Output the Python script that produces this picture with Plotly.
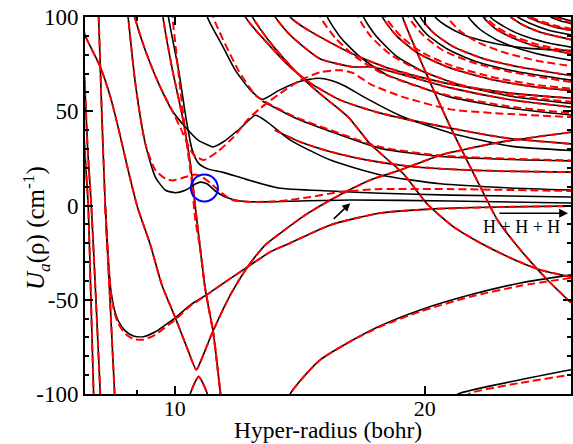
import math
import plotly.graph_objects as go

# ---------------- data (rho in bohr, U in cm^-1) ----------------
rho_W1 = [7.78, 7.83, 7.87, 7.93, 7.99]
U_W1 = [35, 16, 0, -50, -101]

rho_W2 = [7.77, 7.80, 7.86, 7.94, 8.04, 8.14]
U_W2 = [75, 62, 29, -1, -50, -101]

rho_Wb = [8.05, 8.10, 8.17, 8.25, 8.36, 8.47]
U_Wb = [120, 100, 50, 0, -50, -101]

rho_A = [7.75, 7.80, 8.14, 8.37, 8.55, 8.79, 9.02, 9.35, 9.65, 10.02, 10.34, 10.62,
         10.74, 11.10, 11.67, 12.24, 12.86, 13.41, 14.37, 15.40, 17.20, 18.70, 20.89, 24.67, 30.0]
U_A = [95, 90.3, 73.4, 57.5, 41.6, 18.8, -0.8, -20.9, -42, -59.6, -75, -87.1,
       -83, -67.5, -47.4, -32.6, -20.9, -14.6, -5, 2.9, 13.5, 18.8, 26.7, 33.6, 38.9]

rho_L = [10.38, 10.45, 10.60, 10.69, 10.78, 10.94, 11.02]
U_L = [-104, -99.5, -93, -90.7, -93, -99.5, -104]

rho_S1 = [9.62, 9.68, 9.94, 10.22, 10.45, 10.59, 10.74, 10.89, 11.13, 11.35, 11.42]
U_S1 = [110, 100, 71.8, 46.9, 21.4, -0.8, -23.6, -44.8, -67.5, -99.3, -110]

rho_S2 = [9.90, 9.94, 10.04, 10.16, 10.33, 10.48, 10.59, 10.74, 10.89, 11.13, 11.35, 11.42]
U_S2 = [110, 100, 82.4, 61.2, 34.7, 13.5, -7.7, -23.6, -44.8, -67.5, -99.3, -110]

rho_F = [13.5, 13.78, 14.37, 14.98, 16.41, 17.69, 19.76, 22.70, 26.08, 30.0]
U_F_black = [-110, -99.8, -89.8, -81.8, -71.2, -63.8, -55.4, -47.4, -41.1, -36.8]
U_F_red = [-110, -99.8, -89.8, -81.8, -71.2, -64.2, -56.2, -48.4, -42.6, -38.4]

rho_G_black = [21.3, 22.08, 26.08, 30.0]
U_G_black = [-103, -99.5, -92.4, -87.1]
rho_G_red = [22.3, 22.7, 26.08, 30.0]
U_G_red = [-102, -99.5, -94.1, -89.8]

rho_L1 = [12.25, 12.41, 12.97, 13.59, 14.17, 14.98, 16.18, 17.20, 18.86, 20.14, 21.60, 23.34, 25.36, 27.57, 30.0]
U_L1 = [110, 100, 87.7, 77.1, 68.6, 59.1, 46.9, 32.6, 16.7, 0.8, -10.9, -19.9, -27.8, -34.2, -37.9]

rho_L2 = [18.6, 18.81, 19.93, 21.48, 23.34, 24.47, 26.08, 28.11, 30.0]
U_L2 = [110, 100, 73.4, 41.6, 9.8, -7.7, -23.6, -39.5, -51.6]

rho_B = [8.25, 8.31, 8.38, 8.46, 8.55, 8.72, 8.92, 9.17, 9.48, 9.75, 10.02, 10.45, 10.92,
         11.51, 12.24, 13.04, 13.78, 15.40, 17.69, 20.32, 24.67, 30.0]
U_B_black = [0, -25, -45, -55, -61, -66.5, -69.2, -69.6, -67, -63.3, -59.6, -52.7, -47.4,
             -40.5, -32.6, -24.6, -19.9, -10.3, -4, -1.9, -0.8, -0.3]
U_B_red = [0, -25, -46, -56.5, -62.5, -68, -70.8, -71.2, -68.5, -64.5, -60.5, -53.2, -47.6,
           -40.5, -32.6, -24.6, -19.9, -10.3, -4, -1.9, -0.8, -0.3]

rho_C_black = [8.74, 8.79, 8.97, 9.22, 9.48, 9.75, 10.02, 10.30, 10.59, 10.74, 10.95, 11.19,
               11.51, 12.0, 12.68, 14.17, 16.27, 21.48, 30.0]
U_C_black = [110, 100, 64.5, 32.7, 15.1, 8.1, 6.8, 8.1, 11.4, 12.4, 11.4, 7.7,
             4.5, 2.4, 1.9, 2.4, 2.9, 2.4, 1.3]
rho_C_red = [8.74, 8.79, 8.97, 9.22, 9.48, 9.75, 9.94, 10.30, 10.59, 10.80, 11.04, 11.35,
             11.73, 12.34, 13.41, 14.57, 15.83, 17.69, 21.48, 30.0]
U_C_red = [110, 100, 64.5, 32.7, 18.8, 14.2, 13.3, 15.1, 16.5, 15.0, 11.9, 7.2,
           2.9, 1.9, 2.4, 4.5, 7.2, 8.7, 8.7, 7.7]

rho_D_black = [8.88, 8.95, 9.22, 9.57, 9.93, 10.30, 10.68, 10.89, 11.12, 11.45, 12.0, 12.51,
               12.92, 13.78, 15.40, 17.69, 20.89, 25.36, 30.0]
U_D_black = [106, 100, 82.2, 64.5, 50.4, 41.6, 34.5, 32.7, 31.1, 33.8, 41, 47.9,
             44.4, 34.7, 24.1, 16.2, 11.5, 9.3, 8.2]
rho_D_red = [8.88, 8.95, 9.22, 9.57, 9.93, 10.16, 10.53, 10.83, 11.26, 11.78, 12.23, 12.68,
             13.41, 14.17, 14.98, 15.83, 16.41, 17.20, 18.86, 21.48, 25.36, 30.0]
U_D_red = [106, 100, 82.2, 64.5, 50.4, 41.3, 27.2, 24.1, 28.5, 36.4, 45.3, 51.6,
           59.6, 66.5, 70.7, 71.8, 70.2, 64.4, 57.5, 51.0, 48.5, 46.9]

rho_E = [9.78, 9.83, 10.11, 10.33, 10.50, 10.68, 10.98, 11.41, 12.17, 13.33, 15.40, 17.69, 21.48, 30.0]
U_E = [110, 100, 71.8, 45.3, 29.4, 22.5, 19.3, 17.7, 14, 9.3, 7.7, 6.5, 5.5, 4.5]

rho_K1 = [10.90, 10.95, 11.41, 11.83, 12.34, 12.75, 13.37, 14.17, 14.90, 15.40, 16.05, 16.91,
          18.86, 21.48, 25.36, 30.0]
U_K1 = [110, 100, 85, 71.8, 61.2, 56.4, 61.2, 65.9, 67.5, 66.5, 63.3, 57.5,
        46.9, 38.5, 31.5, 29.2]

rho_G1 = [11.05, 11.13, 11.93, 12.51, 12.75, 13.97, 15.40, 17.69, 20.89, 25.36, 30.0]
U_G1 = [110, 100, 71.8, 58.5, 55.9, 46.9, 40, 31, 26.5, 24.8, 23.9]
rho_G1_black = [12.75, 13.97, 15.40, 17.69, 20.89, 25.36, 30.0]
U_G1_black = [55.4, 46.4, 39.3, 30.3, 26.0, 24.4, 23.7]

rho_N = [13.2, 14.2, 15.4, 17.0, 19.0, 21.5, 25.0, 30.0]
U_N = [40, 33.5, 28.5, 24.2, 21.0, 19.2, 18.2, 17.7]

rho_M = [12.05, 12.17, 12.93, 13.78, 14.57, 15.83, 17.69, 21.48, 25.36, 30.0]
U_M = [110, 100, 86.1, 73.4, 64.9, 55.9, 49, 41, 35.5, 32.7]

# fan of channels descending towards the upper thresholds (black)
rho_b1 = [13.05, 13.22, 13.78, 14.37, 14.98, 16.41, 17.30, 18.86, 21.48, 25.36, 30.0]
U_b1 = [110, 100, 90.3, 83.4, 77.7, 73.5, 73.5, 69.3, 62.4, 56.1, 52.2]
rho_b2 = [13.6, 13.78, 14.29, 14.98, 16.41, 17.94, 19.76, 21.48, 25.36, 30.0]
U_b2 = [110, 100, 94.6, 89.3, 80.2, 73.4, 68.1, 64.4, 59.6, 56.9]
rho_b3 = [15.1, 15.27, 15.83, 16.73, 17.94, 19.76, 21.48, 25.36, 30.0]
U_b3 = [110, 100, 89.3, 78.7, 69.7, 62.8, 57.5, 51.6, 48]
rho_b4 = [16.7, 16.88, 17.45, 18.44, 19.76, 22.08, 25.36, 30.0]
U_b4 = [110, 100, 90.3, 79.7, 71.8, 63.8, 58, 54.2]
rho_b5 = [17.6, 17.79, 18.5, 19.6, 21.3, 24.0, 27.0, 30.0]
U_b5 = [110, 100, 90, 81, 73.5, 67, 63, 61]
rho_b6 = [19.2, 19.39, 20.1, 21.3, 23.0, 25.5, 30.0]
U_b6 = [110, 100, 91, 83, 76.5, 71.5, 66.5]
rho_b7 = [19.55, 19.76, 20.5, 21.7, 23.5, 26.0, 30.0]
U_b7 = [110, 100, 91.5, 84, 78, 73.5, 69]
rho_b8 = [22.35, 22.58, 23.3, 24.5, 26.3, 28.3, 30.0]
U_b8 = [110, 100, 93.5, 87.5, 82.5, 79, 77]
rho_b9 = [23.3, 23.54, 24.3, 25.5, 27.2, 30.0]
U_b9 = [110, 100, 94, 89, 84.5, 80.5]
rho_b10 = [23.75, 24.0, 24.9, 26.3, 28.0, 30.0]
U_b10 = [110, 100, 95, 90, 86.5, 84]
rho_b11 = [25.36, 26.2, 27.5, 30.0];  U_b11 = [100, 96, 92, 88]
rho_b12 = [25.86, 26.8, 28.2, 30.0];  U_b12 = [100, 96.5, 93, 90.5]
rho_b13 = [26.59, 27.5, 28.8, 30.0];  U_b13 = [100, 97.3, 94.5, 93]
rho_b14 = [28.34, 29.1, 30.0];        U_b14 = [100, 98, 96.5]
rho_b15 = [28.9, 29.5, 30.0];         U_b15 = [100, 98.8, 98]
rho_b16 = [20.4, 20.6, 21.2, 22.3, 24.0, 26.5, 30.0]
U_b16 = [110, 100, 95.5, 90.5, 86.5, 83.5, 82.2]

# fan (red dashed)
rho_r1 = [14.8, 14.98, 15.6, 16.5, 17.7, 19.5, 21.3, 25.3, 30.0]
U_r1 = [110, 100, 89, 79, 70.5, 63.5, 58.5, 52.5, 49]
rho_r2 = [16.45, 16.64, 17.2, 18.2, 19.6, 21.9, 25.3, 30.0]
U_r2 = [110, 100, 90, 80, 72.3, 64.5, 58.5, 55]
rho_r3 = [17.75, 17.94, 18.7, 19.8, 21.5, 24.3, 27.2, 30.0]
U_r3 = [110, 100, 90, 81.5, 74.3, 67.8, 64, 62]
rho_r4 = [18.95, 19.13, 19.9, 21.0, 22.8, 25.3, 30.0]
U_r4 = [110, 100, 90.5, 82.5, 76, 71, 65.5]
rho_r5 = [21.1, 21.30, 22.0, 23.2, 25.0, 27.5, 30.0]
U_r5 = [110, 100, 93, 86.5, 81, 76.5, 74]
rho_r6 = [23.5, 23.7, 24.5, 25.7, 27.4, 30.0]
U_r6 = [110, 100, 94.2, 89.5, 85.3, 81.5]
rho_r7 = [26.8, 27.7, 29.0, 30.0];  U_r7 = [100, 97.5, 95, 93.8]
rho_r8 = [28.6, 29.3, 30.0];        U_r8 = [100, 98.5, 97]

# tick labels
x_tickvals = [10, 20]
x_ticktext = ["10", "20"]
y_tickvals = [-100, -50, 0, 50, 100]
y_ticktext = ["-100", "-50", "0", "50", "100"]

# --------------------------------------------------------------------------------------
black_curves = [
    (rho_W1, U_W1), (rho_W2, U_W2), (rho_Wb, U_Wb), (rho_A, U_A), (rho_L, U_L),
    (rho_S1, U_S1), (rho_F, U_F_black), (rho_G_black, U_G_black), (rho_L1, U_L1),
    (rho_L2, U_L2), (rho_B, U_B_black), (rho_C_black, U_C_black), (rho_D_black, U_D_black),
    (rho_E, U_E), (rho_K1, U_K1), (rho_M, U_M), (rho_G1_black, U_G1_black), (rho_N, U_N),
    (rho_b1, U_b1), (rho_b2, U_b2), (rho_b3, U_b3), (rho_b4, U_b4), (rho_b5, U_b5),
    (rho_b6, U_b6), (rho_b7, U_b7), (rho_b8, U_b8), (rho_b9, U_b9), (rho_b10, U_b10),
    (rho_b11, U_b11), (rho_b12, U_b12), (rho_b13, U_b13), (rho_b14, U_b14), (rho_b15, U_b15),
    (rho_b16, U_b16),
]
red_curves = [
    (rho_W1, U_W1), (rho_W2, U_W2), (rho_Wb, U_Wb), (rho_A, U_A), (rho_L, U_L),
    (rho_S1, U_S1), (rho_S2, U_S2), (rho_F, U_F_red), (rho_G_red, U_G_red), (rho_L1, U_L1),
    (rho_L2, U_L2), (rho_B, U_B_red), (rho_C_red, U_C_red), (rho_D_red, U_D_red),
    (rho_G1, U_G1), (rho_M, U_M), (rho_N, U_N),
    (rho_b1, U_b1), (rho_b2, U_b2), (rho_b5, U_b5), (rho_b7, U_b7), (rho_b9, U_b9),
    (rho_b11, U_b11), (rho_b13, U_b13),
    (rho_r1, U_r1), (rho_r2, U_r2), (rho_r3, U_r3), (rho_r4, U_r4), (rho_r5, U_r5),
    (rho_r6, U_r6), (rho_r7, U_r7), (rho_r8, U_r8),
]

fig = go.Figure()
for r, u in black_curves:
    fig.add_trace(go.Scatter(x=r, y=u, mode="lines", hoverinfo="skip", showlegend=False,
                             line=dict(color="black", width=1.6, shape="spline", smoothing=0.6)))
for r, u in red_curves:
    fig.add_trace(go.Scatter(x=r, y=u, mode="lines", hoverinfo="skip", showlegend=False,
                             line=dict(color="#ff0000", width=2, dash="8px,4px",
                                       shape="spline", smoothing=0.6)))

# blue circle highlighting the avoided crossing
circle_rho = [10.86]
circle_U = [9.3]
fig.add_trace(go.Scatter(x=circle_rho, y=circle_U, mode="markers", hoverinfo="skip", showlegend=False,
                         marker=dict(symbol="circle-open", size=27, color="blue",
                                     line=dict(color="blue", width=2))))

serif = "Liberation Serif"

# small arrow pointing at the near-threshold channel
fig.add_annotation(x=math.log10(16.27), y=1.2, xref="x", yref="y", ax=-18, ay=17,
                   showarrow=True, arrowhead=2, arrowsize=1, arrowwidth=1.6, arrowcolor="black", text="")
# H + H + H threshold arrow
fig.add_annotation(x=math.log10(29.75), y=-4.1, xref="x", yref="y",
                   ax=math.log10(24.5), ay=-4.1, axref="x", ayref="y",
                   showarrow=True, arrowhead=2, arrowsize=1.1, arrowwidth=1.6, arrowcolor="black", text="")
fig.add_annotation(x=math.log10(26.15), y=-11.3, xref="x", yref="y", showarrow=False,
                   text="H + H + H", font=dict(family=serif, size=18, color="black"))

# axis titles
fig.add_annotation(xref="paper", yref="paper", x=0.5, y=-0.095, yanchor="middle", showarrow=False,
                   text="Hyper-radius (bohr)", font=dict(family=serif, size=23.5, color="black"))
fig.add_annotation(xref="paper", yref="paper", x=-0.101, y=0.44, xanchor="center", yanchor="middle",
                   textangle=-90, showarrow=False,
                   text="<i>U</i><sub><i>a</i></sub>(ρ) (cm<sup>-1</sup>)",
                   font=dict(family=serif, size=25, color="black"))

fig.update_layout(
    width=573, height=444, margin=dict(l=85, r=2, t=17, b=50),
    paper_bgcolor="white", plot_bgcolor="white", showlegend=False,
    font=dict(family=serif, size=23, color="black"),
)
fig.update_xaxes(
    type="log", range=[math.log10(7.8), math.log10(30.0)], automargin=False,
    tickvals=x_tickvals, ticktext=x_ticktext, ticks="inside", ticklen=8, tickwidth=1.5,
    ticklabelstandoff=-6,
    tickcolor="black", showline=True, linecolor="black", linewidth=2, mirror="allticks",
    showgrid=False, zeroline=False,
    minor=dict(tickvals=[9], ticks="inside", ticklen=4, tickwidth=1.5, tickcolor="black", showgrid=False),
    tickfont=dict(family=serif, size=22, color="black"),
)
fig.update_yaxes(
    range=[-100, 100], tickvals=y_tickvals, ticktext=y_ticktext, automargin=False,
    ticks="inside", ticklen=8, tickwidth=1.5,
    tickcolor="black", showline=True, linecolor="black", linewidth=2, mirror="allticks",
    showgrid=False, zeroline=False,
    minor=dict(dtick=10, ticks="inside", ticklen=4, tickwidth=1.5, tickcolor="black", showgrid=False),
    tickfont=dict(family=serif, size=23, color="black"),
)

fig.write_html("out.html", config={"displayModeBar": False},
               post_script="document.body.style.margin='0px';")
